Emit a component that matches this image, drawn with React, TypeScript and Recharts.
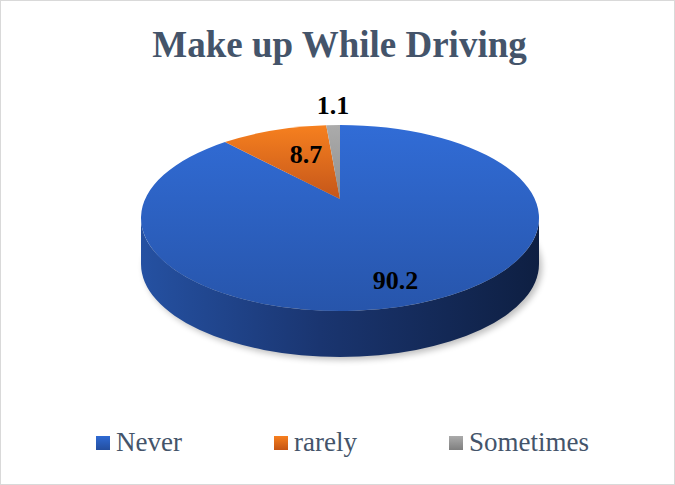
import React from 'react';
import { PieChart, Pie, Legend } from 'recharts';

const categories = ['Never', 'rarely', 'Sometimes'];
const values = [90.2, 8.7, 1.1];
const topColors = [
  ['#316cd6', '#2755ab'],
  ['#f6801f', '#c5561a'],
  ['#ababab', '#8f8f8f'],
];
const legendColors = [
  ['#2f6ad3', '#244e9e'],
  ['#f77f1e', '#c55514'],
  ['#ababab', '#7f7f7f'],
];
const titleText = 'Make up While Driving';

const data = categories.map((name, i) => ({ name, value: values[i] }));

const W = 675;
const H = 485;
const TILT = 93 / 199;
const DEPTH = 46;
const APEX_LIFT = 19;
const RAD = Math.PI / 180;
const SERIF = '"Times New Roman", "Liberation Serif", "Noto Serif", "DejaVu Serif", FreeSerif, Georgia, Times, serif';
const TEXT_COLOR = '#44546a';
const LEGEND_ITEM_WIDTHS = [178, 175, 160];

const renderSlice = (props: any) => {
  const { cx, cy, outerRadius, startAngle, endAngle, midAngle, percent, index, value } = props;
  const rx = outerRadius;
  const ry = outerRadius * TILT;
  const ax = cx;
  const ay = cy - APEX_LIFT;
  const pt = (deg: number): [number, number] => [cx + rx * Math.cos(deg * RAD), cy - ry * Math.sin(deg * RAD)];
  const [sx, sy] = pt(startAngle);
  const [ex, ey] = pt(endAngle);
  const span = Math.abs(startAngle - endAngle);
  const large = span > 180 ? 1 : 0;
  const sweep = startAngle > endAngle ? 1 : 0;
  const topPath = `M${ax},${ay} L${sx},${sy} A${rx},${ry} 0 ${large} ${sweep} ${ex},${ey} Z`;

  const lo = Math.min(startAngle, endAngle);
  const hi = Math.max(startAngle, endAngle);
  const sides: string[] = [];
  [-360, 0, 360].forEach((k) => {
    const a = Math.max(lo, -180 + k);
    const b = Math.min(hi, k);
    if (b > a) {
      const [bx, by] = pt(b);
      const [ax2, ay2] = pt(a);
      sides.push(
        `M${bx},${by} A${rx},${ry} 0 0 1 ${ax2},${ay2} L${ax2},${ay2 + DEPTH} A${rx},${ry} 0 0 0 ${bx},${by + DEPTH} Z`
      );
    }
  });

  const f = percent >= 0.5 ? 0.92 : percent >= 0.05 ? 0.51 : 1.01;
  const lx = ax + rx * f * Math.cos(midAngle * RAD);
  const ly = ay - ry * f * Math.sin(midAngle * RAD);

  return (
    <g key={`slice-${index}`}>
      <defs>
        <linearGradient id={`top-${index}`} x1="0" y1="0" x2="0" y2="1">
          <stop offset="0%" stopColor={topColors[index][0]} />
          <stop offset="100%" stopColor={topColors[index][1]} />
        </linearGradient>
        <linearGradient id={`side-${index}`} x1="0" y1="0" x2="1" y2="0">
          <stop offset="0%" stopColor="#2551a2" />
          <stop offset="45%" stopColor="#1a3570" />
          <stop offset="100%" stopColor="#0e1f42" />
        </linearGradient>
        <filter id={`blur-${index}`} x="-10%" y="-10%" width="120%" height="130%">
          <feGaussianBlur stdDeviation="3" />
        </filter>
      </defs>
      {sides.length > 0 && (
        <ellipse
          cx={cx + 3}
          cy={cy + DEPTH + 3}
          rx={rx}
          ry={ry}
          fill="#000"
          opacity={0.25}
          filter={`url(#blur-${index})`}
        />
      )}
      {sides.map((d, j) => (
        <path key={j} d={d} fill={`url(#side-${index})`} />
      ))}
      <path d={topPath} fill={`url(#top-${index})`} />
      <text
        x={lx}
        y={ly}
        textAnchor="middle"
        dominantBaseline="central"
        style={{ fontFamily: SERIF, fontWeight: 'bold', fontSize: 26 }}
        fill="#000"
      >
        {value}
      </text>
    </g>
  );
};

const renderLegend = () => (
  <div
    style={{
      display: 'flex',
      alignItems: 'center',
      paddingLeft: 96,
      fontFamily: SERIF,
      fontSize: 27,
      lineHeight: '27px',
      color: TEXT_COLOR,
    }}
  >
    {categories.map((c, i) => (
      <div key={c} style={{ display: 'flex', alignItems: 'center', width: LEGEND_ITEM_WIDTHS[i], flex: 'none' }}>
        <span
          style={{
            display: 'inline-block',
            width: 14,
            height: 14,
            marginRight: 6,
            flex: 'none',
            background: `linear-gradient(${legendColors[i][0]}, ${legendColors[i][1]})`,
          }}
        />
        <span style={{ whiteSpace: 'nowrap' }}>{c}</span>
      </div>
    ))}
  </div>
);

export default function App() {
  return (
    <div
      style={{
        position: 'absolute',
        left: 0,
        top: 0,
        width: W,
        height: H,
        background: '#fff',
        border: '1px solid #d9d9d9',
        boxSizing: 'border-box',
        overflow: 'hidden',
        fontFamily: SERIF,
      }}
    >
      <svg width={W} height={80} style={{ position: 'absolute', left: -1, top: -1 }}>
        <text
          x={339.5}
          y={57}
          textAnchor="middle"
          style={{ fontFamily: SERIF, fontWeight: 'bold', fontSize: 37 }}
          fill={TEXT_COLOR}
        >
          {titleText}
        </text>
      </svg>
      <div style={{ position: 'absolute', left: -1, top: -1 }}>
        <PieChart width={W} height={H} margin={{ top: 0, right: 0, bottom: 0, left: 0 }}>
          <Pie
            data={data}
            dataKey="value"
            nameKey="name"
            cx={340}
            cy={218}
            outerRadius={199}
            startAngle={90}
            endAngle={-270}
            fill="none"
            stroke="none"
            labelLine={false}
            label={renderSlice}
            isAnimationActive={false}
          />
          <Legend
            content={renderLegend}
            wrapperStyle={{ position: 'absolute', left: 0, top: 429, width: W }}
          />
        </PieChart>
      </div>
    </div>
  );
}
